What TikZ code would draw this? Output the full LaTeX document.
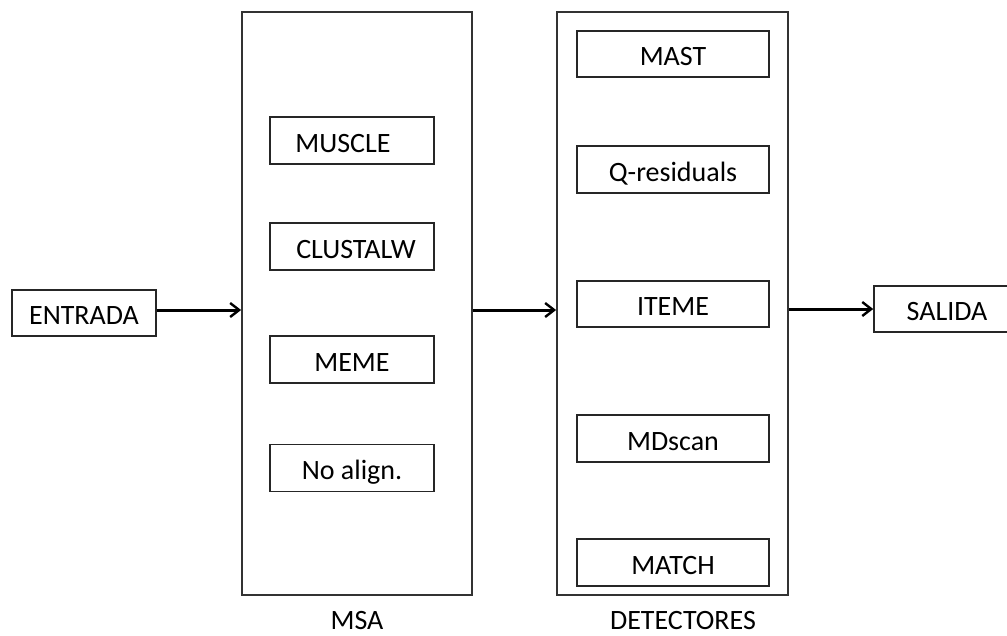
\documentclass[tikz,border=0pt]{standalone}
\usepackage{fontspec}
\setmainfont{Carlito}
\usetikzlibrary{arrows.meta}
\begin{document}
\begin{tikzpicture}[x=1pt,y=-1pt,
  every node/.style={font=\fontsize{28}{32}\selectfont, inner sep=0pt, text height=23pt, text depth=0pt},
  box/.style={draw=black!85, line width=1.6pt, rectangle},
  big/.style={draw=black!80, line width=1.8pt, rectangle, minimum width=230pt, minimum height=583pt},
  small/.style={box, minimum width=164pt, minimum height=47pt},
  det/.style={box, minimum width=192pt, minimum height=46pt},
  arr/.style={line width=3pt, -{Straight Barb[length=9pt,width=14pt,line width=2.4pt]}},
  lbl/.style={anchor=base, text height=18pt}
]
\useasboundingbox (0,0) rectangle (1007,635);
\node[big] (msa) at (357,303.5) {};
\node[big, minimum width=231pt] (detbox) at (672.5,303.5) {};
\node[box, minimum width=144pt, minimum height=46pt] (entrada) at (84,313) {ENTRADA};
\node[box, minimum width=136pt, minimum height=46pt] (salida) at (942,309) {\hspace{10pt}SALIDA};
\node[small] (muscle) at (352,140.5) {\hspace{-18pt}MUSCLE};
\node[small] (clustalw) at (352,246.5) {\hspace{8pt}CLUSTALW};
\node[small] (meme) at (352,359.5) {MEME};
\node[small] (noalign) at (352,468) {No align.};
\node[det] (mast) at (673,54) {MAST};
\node[det, minimum height=47pt] (qres) at (673,169.5) {Q-residuals};
\node[det] (iteme) at (673,304) {ITEME};
\node[det, minimum height=47pt] (mdscan) at (673,438.5) {MDscan};
\node[det, minimum height=47pt] (match) at (673,562.5) {MATCH};
\node[lbl] (msalabel) at (357,629) {MSA};
\node[lbl] (detlabel) at (683,629) {DETECTORES};
\draw[arr] ([yshift=3pt]entrada.east) -- ([yshift=3pt]entrada.east -| msa.west);
\draw[arr] ([yshift=-6.5pt]msa.east) -- ([yshift=-6.5pt]detbox.west);
\draw[arr] ([yshift=-5.5pt]detbox.east) -- (salida.west);
\end{tikzpicture}
\end{document}
